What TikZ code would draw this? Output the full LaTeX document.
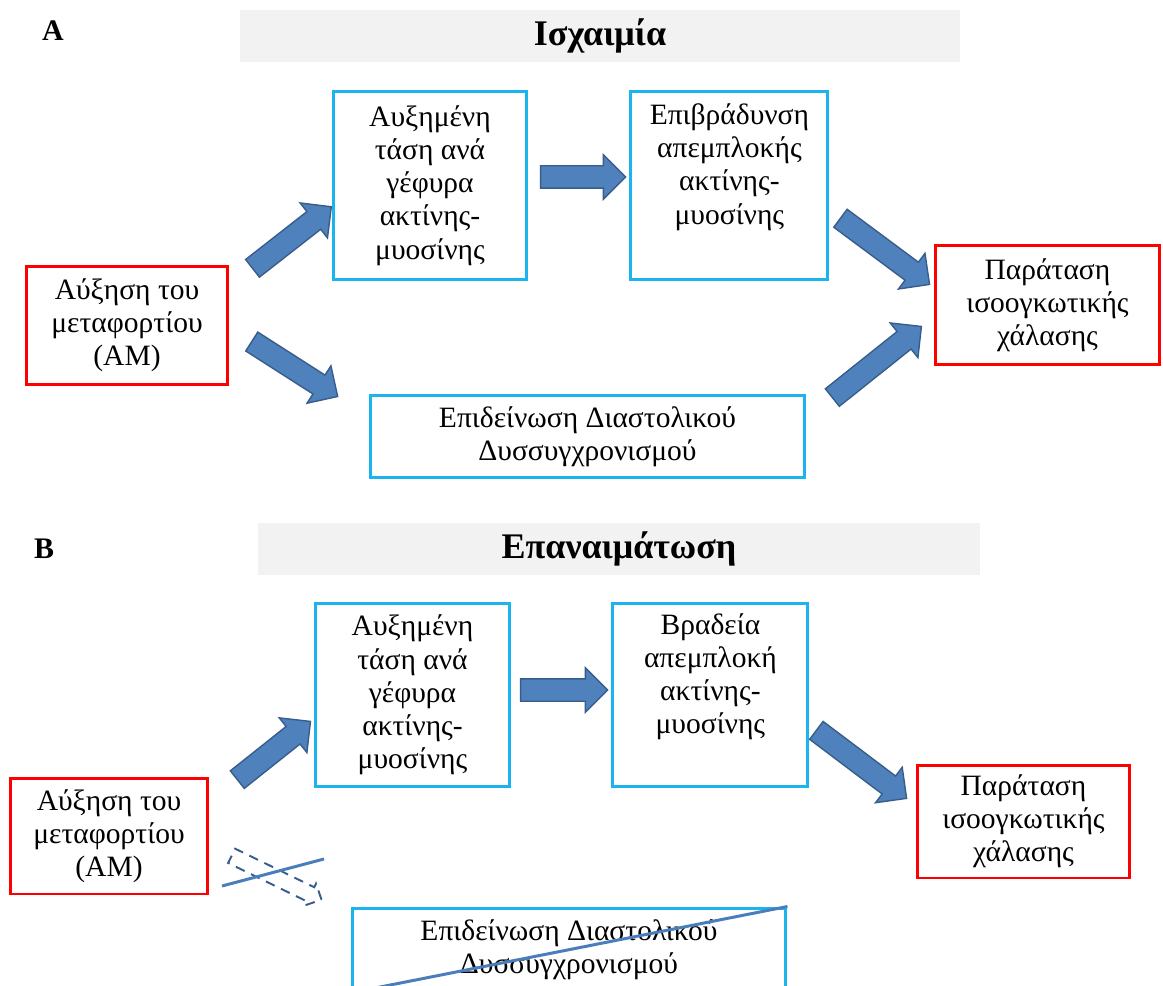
\documentclass[tikz,border=0pt]{standalone}
\usepackage{fontspec}
\setmainfont{Liberation Serif}
\usepackage{xcolor}
\usetikzlibrary{positioning, shapes.arrows}
\definecolor{boxblue}{HTML}{1CB4EE}
\definecolor{boxred}{HTML}{FF0000}
\definecolor{headgray}{HTML}{F2F2F2}
\definecolor{arrowfill}{HTML}{4F81BD}
\definecolor{arrowedge}{HTML}{385D8A}
\definecolor{crossline}{HTML}{4A7EBB}

\tikzset{
  bluebox/.style={draw=boxblue, line width=1.7pt, align=center, inner sep=0pt},
  redbox/.style={draw=boxred, line width=1.7pt, align=center, inner sep=0pt},
  headbar/.style={fill=headgray, inner sep=0pt, minimum height=1.06cm, font=\fontsize{20.5}{24}\selectfont\bfseries},
  panel/.style={font=\fontsize{17}{20}\selectfont\bfseries},
  blk/.style={single arrow, draw=arrowedge, fill=arrowfill, line width=0.8pt, inner sep=0pt, inner ysep=0.21cm, minimum width=0.86cm, single arrow head extend=0.22cm},
  ghost/.style={single arrow, draw=arrowedge, line width=1.1pt, dash pattern=on 5.5pt off 4pt, inner sep=0pt, inner ysep=0.14cm, minimum width=0.44cm, single arrow head extend=0.08cm},
  cross/.style={draw=crossline, line width=1.7pt},
}

\begin{document}
\begin{tikzpicture}[x=0.02cm, y=-0.02cm, font=\fontsize{16.8}{18.9}\selectfont]
            \useasboundingbox (0,0) rectangle (1163,986);

            % A: Ischaemia
            \node[panel] (labA) at (53,31) {A};
            \node[headbar, minimum width=14.4cm] (headA) at (600,36) {\raisebox{-2pt}{Ισχαιμία}};

            \node[redbox, minimum width=4.04cm, minimum height=2.38cm] (amA) at (127,325.5)
                {Αύξηση του\\ μεταφορτίου\\ (AM)};
            \node[bluebox, minimum width=3.88cm, minimum height=3.78cm] (tasiA) at (430,185.5)
                {Αυξημένη\\ τάση ανά\\ γέφυρα\\ ακτίνης-\\ μυοσίνης};
            \node[bluebox, minimum width=3.94cm, minimum height=3.78cm, right=2.02cm of tasiA] (epivA)
                {Επιβράδυνση\\ απεμπλοκής\\ ακτίνης-\\ μυοσίνης\\ \strut};
            \node[redbox, minimum width=4.5cm, minimum height=2.4cm] (paratA) at (1047.5,305)
                {Παράταση\\ ισοογκωτικής\\ χάλασης};
            \node[bluebox, minimum width=8.7cm, minimum height=1.66cm] (epidA) at (587.5,436.5)
                {Επιδείνωση Διαστολικού\\ Δυσσυγχρονισμού};

            \node[blk, minimum height=2.0cm, rotate=38] (arA1) at (287.5,241) {};
            \node[blk, minimum height=2.04cm, rotate=-32.6] (arA2) at (290,366) {};
            \node[blk, minimum height=1.7cm] (arA3) at (577.5,177) {};
            \node[blk, minimum height=2.22cm, rotate=-36.6] (arA4) at (880.5,248) {};
            \node[blk, minimum height=2.28cm, rotate=38.6] (arA5) at (872.5,365.5) {};

            % B: Reperfusion
            \node[panel] (labB) at (44,549) {B};
            \node[headbar, minimum width=14.44cm] (headB) at (619,549) {\raisebox{-2pt}{Επαναιμάτωση}};

            \node[redbox, minimum width=3.96cm, minimum height=2.32cm] (amB) at (109,836)
                {Αύξηση του\\ μεταφορτίου\\ (AM)};
            \node[bluebox, minimum width=3.9cm, minimum height=3.68cm] (tasiB) at (412.5,695)
                {Αυξημένη\\ τάση ανά\\ γέφυρα\\ ακτίνης-\\ μυοσίνης};
            \node[bluebox, minimum width=3.9cm, minimum height=3.68cm, right=2cm of tasiB] (vradB)
                {Βραδεία\\ απεμπλοκή\\ ακτίνης-\\ μυοσίνης\\ \strut};
            \node[redbox, minimum width=4.26cm, minimum height=2.26cm] (paratB) at (1023.5,821.5)
                {Παράταση\\ ισοογκωτικής\\ χάλασης};
            \node[bluebox, minimum width=8.68cm, minimum height=1.66cm] (epidB) at (569,949.5)
                {Επιδείνωση Διαστολικού\\ Δυσσυγχρονισμού};

            \node[blk, minimum height=1.87cm, rotate=38.5] (arB1) at (269.5,754) {};
            \node[blk, minimum height=1.74cm] (arB2) at (558.5,690) {};
            \node[blk, minimum height=2.26cm, rotate=-37] (arB3) at (857,761) {};

            % cancelled path
            \node[ghost, minimum height=2.0cm, rotate=-26] (arB4) at (273,876) {};
            \coordinate (c1s) at (222,886);
            \coordinate (c1e) at (324,859);
            \draw[cross] (c1s) -- (c1e);
            \coordinate (c2s) at (365,990);
            \draw[cross] (c2s) -- (epidB.north east);
\end{tikzpicture}
\end{document}
